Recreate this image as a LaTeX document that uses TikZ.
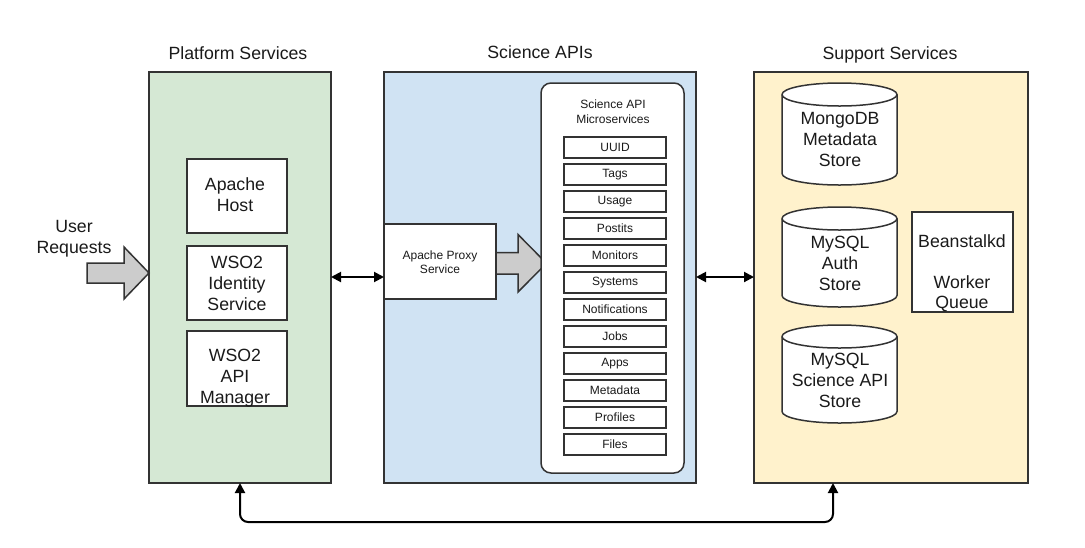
\documentclass[tikz,border=0pt]{standalone}
\usepackage{fontspec}
\setmainfont{Liberation Sans}
\usetikzlibrary{arrows.meta,calc}
\definecolor{pgreen}{HTML}{D5E8D4}
\definecolor{pblue}{HTML}{D0E3F3}
\definecolor{pyellow}{HTML}{FFF2CC}
\definecolor{edge}{HTML}{333333}
\definecolor{arrowgray}{HTML}{CCCCCC}
\definecolor{txt}{HTML}{1A1A1A}
\begin{document}
\begin{tikzpicture}[x=1pt,y=1pt,
  panel/.style={draw=edge,line width=1.5pt,inner sep=0pt,outer sep=0pt},
  whitebox/.style={draw=edge,fill=white,line width=1.5pt,inner sep=0pt,outer sep=0pt},
  itembox/.style={draw=edge,fill=white,line width=1.4pt,inner sep=0pt,outer sep=0pt,
     minimum width=102pt,minimum height=21pt,font=\fontsize{12}{14}\selectfont,text=txt},
  bigtxt/.style={font=\fontsize{17.7}{21}\selectfont,text=txt,align=center,inner sep=0pt},
  smalltxt/.style={font=\fontsize{12}{14.5}\selectfont,text=txt,align=center,inner sep=0pt},
  fatarrow/.style={draw=edge,fill=arrowgray,line width=1.5pt,line join=miter},
  conn/.style={draw=black,line width=2pt,{Triangle[length=10pt,width=10pt]}-{Triangle[length=10pt,width=10pt]}},
  cyl/.style={draw=edge,fill=white,line width=1.5pt}
]
\useasboundingbox (0,0) rectangle (1085,-547);
\fill[white] (0,0) rectangle (1085,-547);

% panels
\node[panel,fill=pgreen,minimum width=182pt,minimum height=411pt] (plat) at (240,-277.5) {};
\node[panel,fill=pblue,minimum width=312pt,minimum height=411pt] (sci) at (540,-277.5) {};
\node[panel,fill=pyellow,minimum width=274pt,minimum height=411pt] (sup) at (891,-277.5) {};

% titles
\node[bigtxt,anchor=base] (tplat) at (238,-59.3) {Platform Services};
\node[bigtxt,anchor=base] (tsci) at (540,-58.5) {Science APIs};
\node[bigtxt,anchor=base] (tsup) at (890,-59.3) {Support Services};

% platform boxes
\node[whitebox,minimum width=100pt,minimum height=74pt] (host) at (237,-196) {};
\node[bigtxt] (hostt) at (235,-195) {Apache\\Host};
\node[whitebox,minimum width=100pt,minimum height=74pt] (ids) at (237,-283) {};
\node[bigtxt] (idst) at (237,-283) {WSO2\\Identity\\Service};
\node[whitebox,minimum width=100pt,minimum height=75pt] (apim) at (237,-368.5) {};
\node[bigtxt] (apimt) at (235,-378) {WSO2\\API\\Manager};

% user requests
\node[bigtxt] (user) at (74,-238.5) {User\\Requests};
\draw[fatarrow] (87,-263) -- (124,-263) -- (124,-247) -- (149,-273) -- (124,-299) -- (124,-283) -- (87,-283) -- cycle;

% proxy
\node[whitebox,minimum width=112pt,minimum height=75pt] (proxy) at (440,-261.5) {};
\node[smalltxt] (proxyt) at (440,-262) {Apache Proxy\\Service};
\draw[fatarrow] (496,-252.5) -- (518,-252.5) -- (518,-234.5) -- (546.5,-263.3) -- (518,-292) -- (518,-274) -- (496,-274) -- cycle;

% microservices
\node[whitebox,rounded corners=10pt,minimum width=143pt,minimum height=390pt] (micro) at (612.5,-278) {};
\node[smalltxt] (microt) at (613,-111.5) {Science API\\Microservices};
\foreach \name [count=\i from 0] in {UUID,Tags,Usage,Postits,Monitors,Systems,Notifications,Jobs,Apps,Metadata,Profiles,Files}{
  \node[itembox] (ms\i) at (615,-147.5-27*\i) {\name};
}

% cylinders
\foreach \yt/\yb/\nm in {83/185/mongo,207/307/auth,325/423/scidb}{
  \path[cyl] (782,-\yt-11.5) -- (782,-\yb+11.5) arc (180:360:57.5 and 11.5) -- (897,-\yt-11.5) arc (0:180:57.5 and 11.5) -- cycle;
  \draw[cyl,fill=none] (782,-\yt-11.5) arc (180:360:57.5 and 11.5);
}
\node[bigtxt] (mongo) at (840,-139.5) {MongoDB\\Metadata\\Store};
\node[bigtxt] (auth) at (840,-263) {MySQL\\Auth\\Store};
\node[bigtxt] (scidb) at (840,-380) {MySQL\\Science API\\Store};

% beanstalkd
\node[whitebox,minimum width=101pt,minimum height=100pt] (bean) at (962.5,-262) {};
\node[bigtxt,font=\fontsize{17.7}{20.5}\selectfont] (beant) at (962,-273.5) {Beanstalkd\\[20.5pt]Worker\\Queue};

% connectors
\draw[conn] (plat.east |- 0,-277) -- (sci.west |- 0,-277);
\draw[conn] (sci.east |- 0,-277) -- (sup.west |- 0,-277);
\coordinate (supb) at (833,-483);
\draw[conn,rounded corners=8pt] (plat.south) -- (240,-522) -- (833,-522) -- (supb);
\end{tikzpicture}
\end{document}
